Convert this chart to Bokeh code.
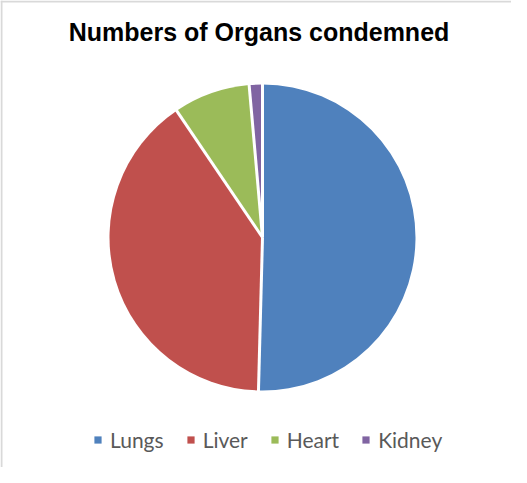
import numpy as np
from bokeh.plotting import figure
from bokeh.models import Range1d, Legend, LegendItem, Span, ColumnDataSource
from bokeh.core.properties import value
from bokeh.embed import file_html
from bokeh.resources import INLINE

# Data
TITLE = "Numbers of Organs condemned"
categories = ["Lungs", "Liver", "Heart", "Kidney"]
counts = [362, 288, 58, 10]
colors = ["#4F81BD", "#C0504D", "#9BBB59", "#8064A2"]

W, H = 511, 467
CX, CY, R = 262, 230, 153

vals = np.array(counts, dtype=float)
frac = vals / vals.sum()
cum = np.concatenate([[0.0], np.cumsum(frac)])
start = np.pi / 2 - cum[:-1] * 2 * np.pi
end = np.pi / 2 - cum[1:] * 2 * np.pi

src = ColumnDataSource(dict(cat=categories, start=start, end=end, color=colors))

p = figure(width=W, height=H, output_backend="svg", toolbar_location=None,
           x_range=Range1d(0, W), y_range=Range1d(0, H), min_border=0)
p.axis.visible = False
p.grid.visible = False
p.outline_line_color = None
p.background_fill_color = "white"
p.border_fill_color = "white"

wr = p.wedge(x=CX, y=CY, radius=R, start_angle="start", end_angle="end",
             direction="clock", fill_color="color", line_color=None, source=src)
# white separators
p.ray(x=CX, y=CY, length=R + 3, angle=start, line_color="white", line_width=3)

# title
p.text(x=[258.5], y=[436], text=[TITLE], text_align="center", text_baseline="middle",
       text_font=value("Liberation Sans"), text_font_style="bold",
       text_font_size="25px", text_color="#000000")

# frame lines (left / top)
p.add_layout(Span(location=1, dimension="height", line_color="#d9d9d9", line_width=2))
p.add_layout(Span(location=H - 1, dimension="width", line_color="#d9d9d9", line_width=2))

legend = Legend(items=[LegendItem(label=c, renderers=[wr], index=i) for i, c in enumerate(categories)],
                orientation="horizontal", location=(93, 15),
                glyph_width=9, glyph_height=9, label_standoff=8, spacing=22,
                label_text_font="Lato", label_text_font_size="21px",
                label_text_color="#595959", border_line_color=None,
                background_fill_alpha=0, padding=0, margin=0)
p.add_layout(legend, "center")

open("out.html", "w").write(file_html(p, INLINE))
